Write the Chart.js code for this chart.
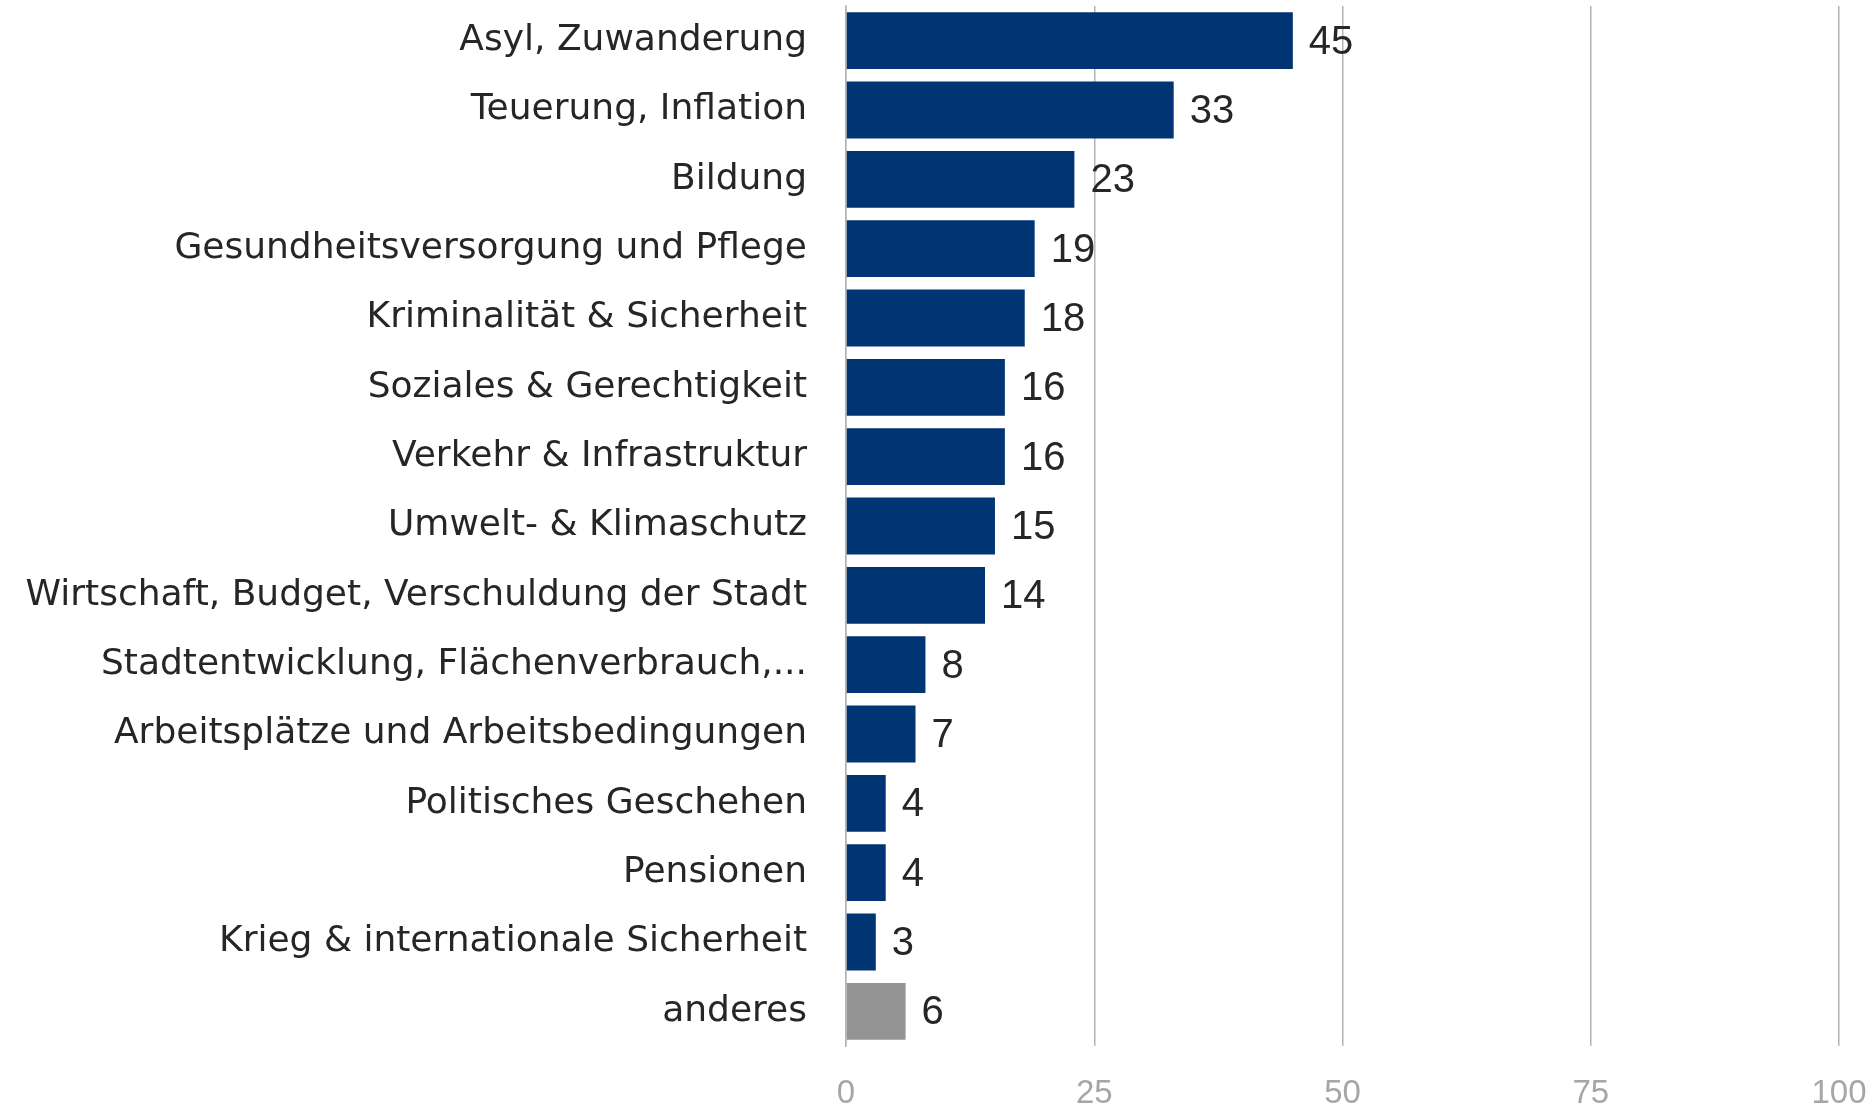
<!DOCTYPE html>
<html lang="de">
<head>
    <meta charset="UTF-8">
    <script src="https://cdn.jsdelivr.net/npm/chart.js@4.4.1/dist/chart.umd.min.js"></script>
    <title>Themen</title>
    <style>
        html, body { margin: 0; padding: 0; background: #fff; }
        #wrap { width: 1872px; height: 1110px; }
    </style>
</head>
<body>
    <div id="wrap"><canvas id="chart"></canvas></div>
    <script>
        const categories = [
            'Asyl, Zuwanderung',
            'Teuerung, Inflation',
            'Bildung',
            'Gesundheitsversorgung und Pflege',
            'Kriminalität & Sicherheit',
            'Soziales & Gerechtigkeit',
            'Verkehr & Infrastruktur',
            'Umwelt- & Klimaschutz',
            'Wirtschaft, Budget, Verschuldung der Stadt',
            'Stadtentwicklung, Flächenverbrauch,...',
            'Arbeitsplätze und Arbeitsbedingungen',
            'Politisches Geschehen',
            'Pensionen',
            'Krieg & internationale Sicherheit',
            'anderes'
        ];
        const values = [45, 33, 23, 19, 18, 16, 16, 15, 14, 8, 7, 4, 4, 3, 6];
        const xTicks = [0, 25, 50, 75, 100];

        const navy = '#003473';
        const grey = '#949494';
        const barColors = categories.map(c => c === 'anderes' ? grey : navy);

        // Zahlen rechts neben den Balken
        const valueLabels = {
            id: 'valueLabels',
            afterDatasetsDraw(chart) {
                const ctx = chart.ctx;
                const meta = chart.getDatasetMeta(0);
                ctx.save();
                ctx.font = '40px "Liberation Sans", Arial, sans-serif';
                ctx.fillStyle = '#262626';
                ctx.textAlign = 'left';
                ctx.textBaseline = 'middle';
                meta.data.forEach((bar, i) => {
                    ctx.fillText(String(values[i]), bar.x + 16, bar.y + 2);
                });
                ctx.restore();
            }
        };

        new Chart(document.getElementById('chart'), {
            type: 'bar',
            data: {
                labels: categories,
                datasets: [{
                    data: values,
                    backgroundColor: barColors,
                    borderWidth: 0,
                    barPercentage: 0.82,
                    categoryPercentage: 1
                }]
            },
            options: {
                indexAxis: 'y',
                responsive: true,
                maintainAspectRatio: false,
                animation: false,
                layout: { padding: { top: 6, right: 33, left: 0, bottom: 0 } },
                plugins: { legend: { display: false }, tooltip: { enabled: false } },
                scales: {
                    x: {
                        min: 0,
                        max: 100,
                        afterBuildTicks: axis => { axis.ticks = xTicks.map(v => ({ value: v })); },
                        afterFit: axis => {
                            axis.height = 64;
                            axis.paddingLeft = 0;
                            axis.paddingRight = 0;
                        },
                        grid: { color: '#b4b4b4', lineWidth: 1.5, drawTicks: false },
                        border: { display: false },
                        ticks: {
                            color: '#a6a6a6',
                            padding: 28,
                            font: { family: '"Liberation Sans", Arial, sans-serif', size: 33 }
                        }
                    },
                    y: {
                        afterFit: axis => {
                            axis.width = 846;
                            axis.paddingTop = 0;
                            axis.paddingBottom = 0;
                        },
                        grid: { display: false, drawTicks: false },
                        border: { display: true, color: '#b4b4b4', width: 1.5 },
                        ticks: {
                            color: '#262626',
                            padding: 39,
                            autoSkip: false,
                            font: { family: '"DejaVu Sans", sans-serif', size: 36 }
                        }
                    }
                }
            },
            plugins: [valueLabels]
        });
    </script>
</body>
</html>
